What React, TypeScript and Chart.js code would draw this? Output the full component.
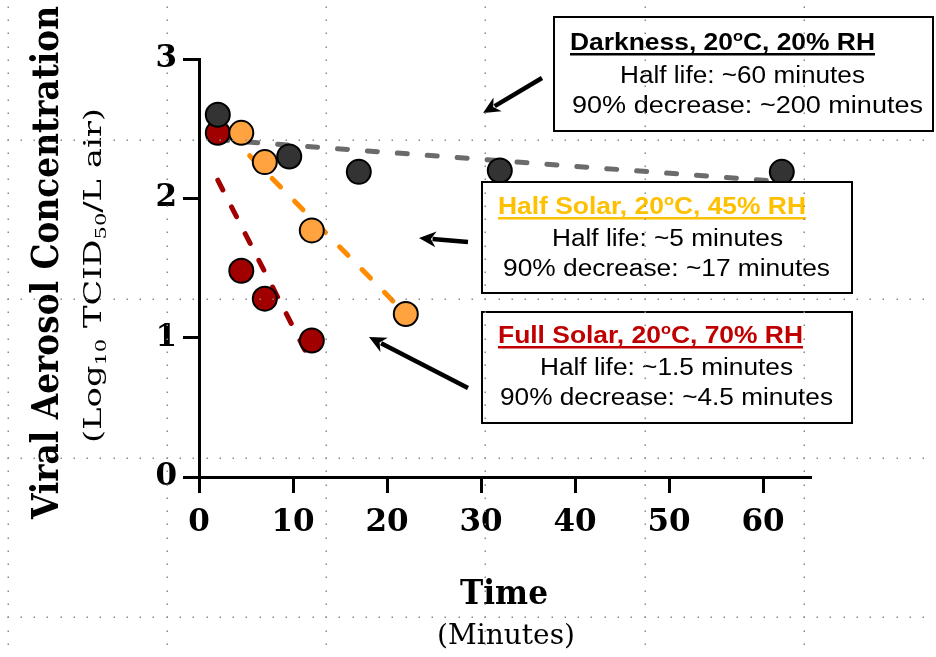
import React, { useEffect, useRef } from "react";
import { Chart, registerables } from "chart.js";

Chart.register(...registerables);

// ---------- data ----------
const X_TICKS = [0, 10, 20, 30, 40, 50, 60];
const Y_TICKS = [0, 1, 2, 3];

const DARK_TIMES = [2, 9.6, 17, 32, 62];
const DARK_VALUES = [2.6, 2.3, 2.19, 2.2, 2.19];
const HALF_TIMES = [4.5, 7, 12, 22];
const HALF_VALUES = [2.47, 2.26, 1.77, 1.17];
const FULL_TIMES = [2, 4.5, 7, 12];
const FULL_VALUES = [2.47, 1.48, 1.28, 0.98];

const DARK_FIT_TIMES = [2, 62];
const DARK_FIT_VALUES = [2.42, 2.12];
const HALF_FIT_TIMES = [3, 22];
const HALF_FIT_VALUES = [2.47, 1.17];
const FULL_FIT_TIMES = [2, 11.8];
const FULL_FIT_VALUES = [2.13, 0.84];

const X_TITLE = "Time";
const X_SUBTITLE = "(Minutes)";
const Y_TITLE = "Viral Aerosol Concentration";

const DARK_TITLE = ["Darkness, 20", "o", "C, 20% RH"];
const DARK_LINES = ["Half life: ~60 minutes", "90% decrease: ~200 minutes"];
const HALF_TITLE = ["Half Solar, 20", "o", "C, 45% RH"];
const HALF_LINES = ["Half life: ~5 minutes", "90% decrease: ~17 minutes"];
const FULL_TITLE = ["Full Solar, 20", "o", "C, 70% RH"];
const FULL_LINES = ["Half life: ~1.5 minutes", "90% decrease: ~4.5 minutes"];

const toPts = (xs: number[], ys: number[]) => xs.map((x, i) => ({ x, y: ys[i] }));

type Seg = { t: string; mode?: "sup" | "sub" };

function drawSegs(
  ctx: CanvasRenderingContext2D,
  segs: Seg[],
  x0: number,
  x1: number,
  size: number,
  weight: string,
  family: string,
  color: string
) {
  let w = 0;
  for (const s of segs) {
    const sz = s.mode ? size * 0.62 : size;
    ctx.font = `${weight} ${sz}px ${family}`;
    w += ctx.measureText(s.t).width;
  }
  const k = (x1 - x0) / w;
  ctx.save();
  ctx.translate(x0, 0);
  ctx.scale(k, 1);
  ctx.fillStyle = color;
  ctx.textBaseline = "alphabetic";
  ctx.textAlign = "left";
  let cx = 0;
  for (const s of segs) {
    const sz = s.mode ? size * 0.62 : size;
    ctx.font = `${weight} ${sz}px ${family}`;
    const dy = s.mode === "sup" ? -size * 0.36 : s.mode === "sub" ? size * 0.22 : 0;
    ctx.fillText(s.t, cx, dy);
    cx += ctx.measureText(s.t).width;
  }
  ctx.restore();
}

function textAt(
  ctx: CanvasRenderingContext2D,
  segs: Seg[],
  x0: number,
  x1: number,
  baseline: number,
  size: number,
  weight: string,
  family: string,
  color: string,
  underline = false
) {
  ctx.save();
  ctx.translate(0, baseline);
  drawSegs(ctx, segs, x0, x1, size, weight, family, color);
  ctx.restore();
  if (underline) {
    ctx.fillStyle = color;
    ctx.fillRect(x0, baseline + 3, x1 - x0, 2.5);
  }
}

function arrow(ctx: CanvasRenderingContext2D, x1: number, y1: number, x2: number, y2: number) {
  const ang = Math.atan2(y2 - y1, x2 - x1);
  const head = 17;
  const half = 8;
  const bx = x2 - Math.cos(ang) * head * 0.8;
  const by = y2 - Math.sin(ang) * head * 0.8;
  ctx.save();
  ctx.strokeStyle = "#000";
  ctx.fillStyle = "#000";
  ctx.lineWidth = 4.5;
  ctx.lineCap = "butt";
  ctx.beginPath();
  ctx.moveTo(x1, y1);
  ctx.lineTo(bx, by);
  ctx.stroke();
  const hx = x2 - Math.cos(ang) * head;
  const hy = y2 - Math.sin(ang) * head;
  ctx.beginPath();
  ctx.moveTo(x2, y2);
  ctx.lineTo(hx + Math.sin(ang) * half, hy - Math.cos(ang) * half);
  ctx.lineTo(x2 - Math.cos(ang) * head * 0.7, y2 - Math.sin(ang) * head * 0.7);
  ctx.lineTo(hx - Math.sin(ang) * half, hy + Math.cos(ang) * half);
  ctx.closePath();
  ctx.fill();
  ctx.restore();
}

function box(ctx: CanvasRenderingContext2D, l: number, t: number, r: number, b: number) {
  ctx.save();
  ctx.fillStyle = "#fff";
  ctx.fillRect(l, t, r - l, b - t);
  ctx.strokeStyle = "#000";
  ctx.lineWidth = 2;
  ctx.strokeRect(l, t, r - l, b - t);
  ctx.restore();
}

const SANS = '"Liberation Sans", Arial, sans-serif';
const SERIF = '"DejaVu Serif", serif';

const annotationPlugin = {
  id: "annotations",
  afterDraw(chart: any) {
    const ctx: CanvasRenderingContext2D = chart.ctx;
    ctx.save();

    // arrows
    arrow(ctx, 542, 78, 483, 113);
    arrow(ctx, 468, 242, 419, 238);
    arrow(ctx, 468, 388, 369, 337);

    // box 1
    box(ctx, 554, 17, 933, 131);
    textAt(ctx, [{ t: DARK_TITLE[0] }, { t: DARK_TITLE[1], mode: "sup" }, { t: DARK_TITLE[2] }], 570, 875, 50, 24, "bold", SANS, "#000", true);
    textAt(ctx, [{ t: DARK_LINES[0] }], 620, 865, 83, 23.5, "normal", SANS, "#000");
    textAt(ctx, [{ t: DARK_LINES[1] }], 572, 923, 113, 23.5, "normal", SANS, "#000");

    // box 2
    box(ctx, 482, 182, 852, 293);
    textAt(ctx, [{ t: HALF_TITLE[0] }, { t: HALF_TITLE[1], mode: "sup" }, { t: HALF_TITLE[2] }], 498, 806, 214, 24, "bold", SANS, "#FFC000", true);
    textAt(ctx, [{ t: HALF_LINES[0] }], 552, 783, 246, 23.5, "normal", SANS, "#000");
    textAt(ctx, [{ t: HALF_LINES[1] }], 503, 830, 276, 23.5, "normal", SANS, "#000");

    // box 3
    box(ctx, 482, 312, 852, 423);
    textAt(ctx, [{ t: FULL_TITLE[0] }, { t: FULL_TITLE[1], mode: "sup" }, { t: FULL_TITLE[2] }], 498, 803, 343, 24, "bold", SANS, "#C00000", true);
    textAt(ctx, [{ t: FULL_LINES[0] }], 540, 793, 375, 23.5, "normal", SANS, "#000");
    textAt(ctx, [{ t: FULL_LINES[1] }], 500, 833, 405, 23.5, "normal", SANS, "#000");

    // x titles
    textAt(ctx, [{ t: X_TITLE }], 460, 548, 604, 34, "bold", SERIF, "#000");
    textAt(ctx, [{ t: X_SUBTITLE }], 437, 575, 644, 28, "normal", SERIF, "#000");

    // y titles (rotated)
    ctx.save();
    ctx.translate(58, 0);
    ctx.rotate(-Math.PI / 2);
    drawSegs(ctx, [{ t: Y_TITLE }], -519, -6, 38, "bold", SERIF, "#000");
    ctx.restore();

    ctx.save();
    ctx.translate(101, 0);
    ctx.rotate(-Math.PI / 2);
    drawSegs(
      ctx,
      [{ t: "(Log" }, { t: "10", mode: "sub" }, { t: " TCID" }, { t: "50", mode: "sub" }, { t: "/L air)" }],
      -443,
      -108,
      24,
      "normal",
      SERIF,
      "#000"
    );
    ctx.restore();

    // dotted guide overlay
    ctx.fillStyle = "#8a8a8a";
    const step = 159.25;
    const dot = step / 12;
    const gx0 = 7.5;
    const gy0 = -19.75;
    for (let k = 0; k < 7; k++) {
      const gx = gx0 + step * k;
      if (gx > 936) break;
      for (let y = gy0; y < 657; y += dot) ctx.fillRect(Math.round(gx) - 0.5, Math.round(y) - 0.5, 1.5, 1.5);
    }
    for (let k = 1; k < 6; k++) {
      const gy = gy0 + step * k;
      if (gy > 657) break;
      for (let x = gx0; x < 936; x += dot) ctx.fillRect(Math.round(x) - 0.5, Math.round(gy) - 0.5, 1.5, 1.5);
    }
    ctx.restore();
  },
};

export default function App() {
  const ref = useRef<HTMLCanvasElement | null>(null);

  useEffect(() => {
    if (!ref.current) return;
    const pointDs = (label: string, xs: number[], ys: number[], fill: string, order: number) => ({
      label,
      data: toPts(xs, ys),
      showLine: false,
      pointRadius: 12,
      pointBackgroundColor: fill,
      pointBorderColor: "#000",
      pointBorderWidth: 2,
      order,
      clip: false as any,
    });
    const fitDs = (label: string, xs: number[], ys: number[], color: string, dash: number[]) => ({
      label,
      data: toPts(xs, ys),
      showLine: true,
      borderColor: color,
      borderWidth: 5,
      borderDash: dash,
      borderCapStyle: "round" as const,
      pointRadius: 0,
      order: 10,
      clip: false as any,
    });

    const axisCommon = {
      grid: {
        drawOnChartArea: false,
        drawTicks: true,
        tickLength: 16,
        lineWidth: 3,
        color: "#000",
      },
      border: { display: true, width: 3, color: "#000" },
    };

    const chart = new Chart(ref.current, {
      type: "scatter",
      data: {
        datasets: [
          fitDs("Darkness fit", DARK_FIT_TIMES, DARK_FIT_VALUES, "#6b6b6b", [10, 20]),
          fitDs("Half Solar fit", HALF_FIT_TIMES, HALF_FIT_VALUES, "#FF8C00", [12, 20]),
          fitDs("Full Solar fit", FULL_FIT_TIMES, FULL_FIT_VALUES, "#A00000", [11, 19]),
          pointDs("Full Solar", FULL_TIMES, FULL_VALUES, "#A00000", 5),
          pointDs("Darkness", DARK_TIMES, DARK_VALUES, "#333333", 4),
          pointDs("Half Solar", HALF_TIMES, HALF_VALUES, "#FFA240", 3),
        ] as any,
      },
      options: {
        responsive: false,
        animation: false,
        events: [],
        layout: { padding: { left: 0, top: 59, right: 126, bottom: 0 } },
        plugins: { legend: { display: false }, tooltip: { enabled: false } },
        scales: {
          x: {
            type: "linear",
            min: 0,
            max: 65,
            ...axisCommon,
            afterBuildTicks: (s: any) => {
              s.ticks = X_TICKS.map((v) => ({ value: v }));
            },
            afterFit: (s: any) => {
              s.height = 180;
            },
            ticks: {
              autoSkip: false,
              maxRotation: 0,
              padding: 11,
              color: "#000",
              font: { family: "DejaVu Serif", weight: "bold", size: 31 },
            },
          },
          y: {
            type: "linear",
            min: 0,
            max: 3,
            ...axisCommon,
            afterBuildTicks: (s: any) => {
              s.ticks = Y_TICKS.map((v) => ({ value: v }));
            },
            afterFit: (s: any) => {
              s.width = 199;
            },
            ticks: {
              autoSkip: false,
              padding: 6,
              color: "#000",
              font: { family: "DejaVu Serif", weight: "bold", size: 31 },
            },
          },
        } as any,
      },
      plugins: [annotationPlugin],
    });
    return () => chart.destroy();
  }, []);

  return (
    <div style={{ position: "absolute", left: 0, top: 0, width: 936, height: 657, background: "#fff" }}>
      <canvas ref={ref} width={936} height={657} style={{ display: "block", width: 936, height: 657 }} />
    </div>
  );
}
